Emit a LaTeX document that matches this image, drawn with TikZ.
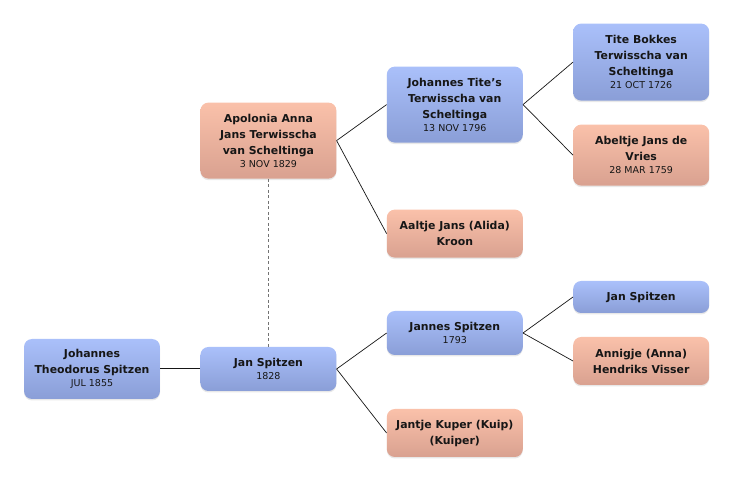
\documentclass[tikz,border=0pt]{standalone}
\usepackage{fontspec}
\setmainfont{DejaVu Sans}
\usetikzlibrary{positioning,shadows}
\definecolor{bluetop}{HTML}{AAC0FA}
\definecolor{bluebot}{HTML}{8A9ED7}
\definecolor{pinktop}{HTML}{FAC1AA}
\definecolor{pinkbot}{HTML}{D9A190}
\definecolor{ink}{HTML}{161616}
\newcommand{\when}[1]{\\[-3pt]{\fontsize{9.5}{12}\selectfont\mdseries #1}}

\begin{document}
\begin{tikzpicture}[x=1pt,y=-1pt]

\tikzstyle{person} = [rectangle, rounded corners=8pt, minimum width=136pt, align=center, text=ink,
  font=\fontsize{10.9}{16}\selectfont\bfseries, inner sep=2pt,
  drop shadow={opacity=0.18, shadow xshift=0pt, shadow yshift=-1.5pt}]
\tikzstyle{male} = [person, top color=bluetop, bottom color=bluebot]
\tikzstyle{female} = [person, top color=pinktop, bottom color=pinkbot]
\tikzstyle{link} = [draw=ink, line width=0.7pt]
\tikzstyle{spouse} = [draw=black!55, line width=1.8pt, dash pattern=on 3pt off 2.5pt]

\useasboundingbox (0,0) rectangle (732,481);

\node (jts) [male, minimum height=60pt] at (92,369) {Johannes\\Theodorus Spitzen\when{JUL 1855}};
\node (jan) [male, minimum height=44pt, right=40pt of jts] {Jan Spitzen\when{1828}};
\node (apolonia) [female, minimum height=76pt, above=168pt of jan] {Apolonia Anna\\Jans Terwisscha\\van Scheltinga\when{3 NOV 1829}};
\node (johtite) [male, minimum height=76pt, right=50pt of apolonia, yshift=36pt] {Johannes Tite's\\Terwisscha van\\Scheltinga\when{13 NOV 1796}};
\node (aaltje) [female, minimum height=48pt, right=50pt of apolonia, yshift=-93pt] {Aaltje Jans (Alida)\\Kroon};
\node (tite) [male, minimum height=77pt, right=50pt of johtite, yshift=42.5pt] {Tite Bokkes\\Terwisscha van\\Scheltinga\when{21 OCT 1726}};
\node (abeltje) [female, minimum height=61pt, right=50pt of johtite, yshift=-50.5pt] {Abeltje Jans de\\Vries\when{28 MAR 1759}};
\node (jannes) [male, minimum height=44pt, right=50pt of jan, yshift=36pt] {Jannes Spitzen\when{1793}};
\node (jantje) [female, minimum height=48pt, right=50pt of jan, yshift=-64pt] {Jantje Kuper (Kuip)\\(Kuiper)};
\node (janelder) [male, minimum height=32pt, right=50pt of jannes, yshift=36pt] {Jan Spitzen};
\node (annigje) [female, minimum height=48pt, right=50pt of jannes, yshift=-28pt] {Annigje (Anna)\\Hendriks Visser};

\draw [spouse] (apolonia.south) -- (jan.north);
\draw [link, line width=1pt] (jts.east) -- (jan.west);
\draw [link] (jan.east) -- (jannes.west);
\draw [link] (jan.east) -- (jantje.west);
\draw [link] (apolonia.east) -- (johtite.west);
\draw [link] (apolonia.east) -- (aaltje.west);
\draw [link] (johtite.east) -- (tite.west);
\draw [link] (johtite.east) -- (abeltje.west);
\draw [link] (jannes.east) -- (janelder.west);
\draw [link] (jannes.east) -- (annigje.west);
\end{tikzpicture}
\end{document}
